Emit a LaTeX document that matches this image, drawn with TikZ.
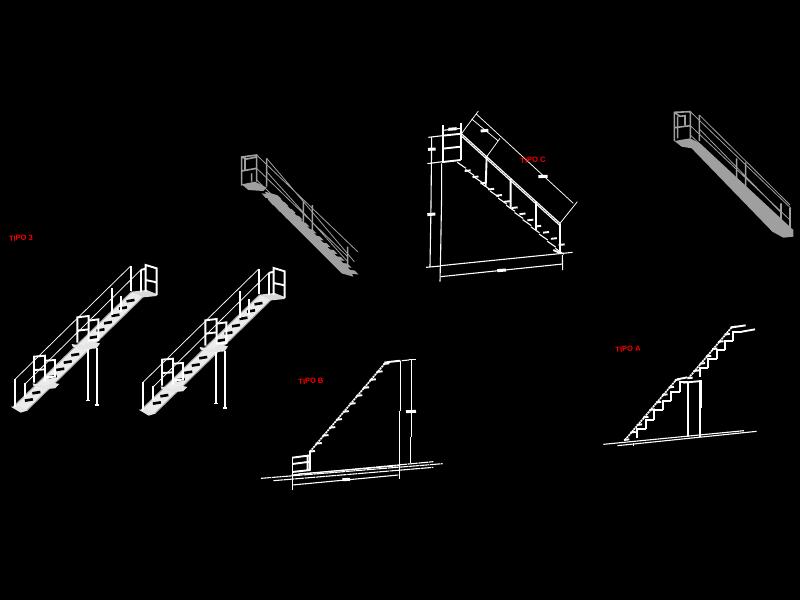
\documentclass[tikz,border=0pt]{standalone}
\usepackage{fontspec}
\setmainfont{Liberation Sans}
\tikzset{
 zoomed/.style={x=0.33333pt,y=-0.33333pt},
 lbl/.style={text=red,font=\bfseries\fontsize{7.5}{8}\selectfont,inner sep=0pt,rotate=4},
 thin line/.style={draw=white,line width=0.75pt},
 mid line/.style={draw=white,line width=1.1pt},
 heavy line/.style={draw=white,line width=1.9pt},
 blob/.style={draw=white,line width=3pt},
 greyline/.style={draw=gray!75,line width=0.8pt},
 greyheavy/.style={draw=gray!75,line width=1.6pt},
}
\newcommand{\typethree}{%
 % continuous band of treads, edges in grey
 \fill[white!92!black] (40,560) -- (395,215) -- (432,228) -- (80,572) -- cycle;
 \draw[gray!70,line width=1pt] (40,560) -- (395,215) (80,572) -- (432,228);
 % landings
 \fill[white!90!black] (98,490) -- (135,498) -- (160,488) -- (178,492) -- (165,505) -- (135,507) -- (100,497) -- cycle;
 \fill[white!90!black] (215,372) -- (252,378) -- (272,365) -- (300,370) -- (290,385) -- (255,388) -- (218,380) -- cycle;
 \fill[white!85!black] (395,215) -- (440,210) -- (470,222) -- (470,228) -- (430,232) -- cycle;
 \fill[white!90!black] (32,560) -- (60,558) -- (82,572) -- (62,578) -- cycle;
 % step gaps
 \foreach \y in {540,518,470,448,426,404,352,330,308,286,264,242}
   {\draw[black,line width=2.6pt] ({60+(566-\y)*1.023-12},\y+2) -- ++(24,-4);}
 % columns
 \draw[heavy line] (264,388) -- (264,540) (292,385) -- (292,553);
 \draw[mid line] (258,542) -- (270,542) (286,555) -- (298,555);
 % rails
 \draw[thin line] (45,478) -- (392,138) (75,492) -- (422,150);
 \draw[heavy line] (45,478) -- (45,560) (75,490) -- (75,530)
   (392,138) -- (392,212) (335,205) -- (335,285) (362,228) -- (362,275) (422,150) -- (422,215);
 % frames
 \draw[heavy line] (102,488) -- (102,410) -- (135,407) -- (135,485)
   (135,422) -- (165,420) -- (165,470) -- (135,472) (102,450) -- (135,448);
 \draw[heavy line] (232,368) -- (232,292) -- (266,288) -- (266,365)
   (266,302) -- (295,298) -- (295,360) -- (266,362) (232,332) -- (266,328);
 \draw[heavy line] (437,215) -- (437,135) -- (470,145) -- (470,225)
   (437,180) -- (470,187) (422,150) -- (437,146);
}
% a diagonal of dense dots carrying short heavy treads
\newcommand{\treadrun}[6]{% x0,y0,x1,y1,n,tread length
 \draw[white,line width=1.7pt,dash pattern=on 2pt off 0.7pt] (#1,#2) -- (#3,#4);
 \foreach \i in {0,...,#5}{
  \draw[heavy line] ({#1+\i*(#3-#1)/#5-3},{#2+\i*(#4-#2)/#5}) -- ++(#6,-2);
 }
}
\newcommand{\stepped}[6]{% x0,y0,dx,dy,n,style
 \foreach \i in {1,...,#5}{
  \draw[#6] ({#1+(\i-1)*#3},{#2+(\i-1)*#4}) -- ++(0,#4) -- ++(#3,0);
 }
}
\begin{document}
\begin{tikzpicture}[x=1pt,y=-1pt]
\useasboundingbox (0,0) rectangle (800,600);
\fill[black] (0,0) rectangle (800,600);

% TIPO 3, twice
\begin{scope}[shift={(0,220)},zoomed]\typethree\end{scope}
\begin{scope}[shift={(128,223)},zoomed]\typethree\end{scope}

% grey stair, upper middle
\begin{scope}[shift={(235,145)},zoomed]
 \fill[gray!75] (20,118) -- (60,110) -- (95,128) -- (85,138) -- (40,135) -- cycle;
 \fill[gray!75] (90,140) -- (125,150) -- (345,375) -- (355,395) -- (320,385) -- (100,165) -- cycle;
 \foreach \i in {0,...,11}{
  \fill[gray!75] ({80+\i*21},{145+\i*20.5}) -- ++(48,6) -- ++(12,12) -- ++(-48,-4) -- cycle;
 }
 \draw[greyheavy] (20,122) -- (20,36) -- (65,30) -- (65,110)
   (20,36) -- (35,42) -- (65,36) (20,78) -- (65,70) (30,42) -- (30,75)
   (50,85) -- (50,110) (95,40) -- (95,125)
   (205,170) -- (205,235) (232,180) -- (232,265) (338,305) -- (338,385);
 \draw[greyline] (65,30) -- (368,320) (95,40) -- (358,350)
   (65,70) -- (338,335) (95,80) -- (338,350) (65,105) -- (338,370);
\end{scope}

% grey stair, upper right
\begin{scope}[shift={(665,105)},zoomed]
 \fill[gray!75] (28,108) -- (75,100) -- (105,115) -- (385,375) -- (385,395) -- (355,398) -- (322,380) -- (80,130) -- (50,125) -- cycle;
 \draw[greyheavy] (28,108) -- (28,22) -- (76,20) -- (76,100)
   (28,22) -- (45,34) -- (60,32) -- (60,60) (28,68) -- (76,62) (38,34) -- (38,100)
   (103,30) -- (103,108) (215,160) -- (215,225) (242,172) -- (242,250)
   (348,295) -- (348,375) (375,308) -- (375,385);
 \draw[greyline] (76,20) -- (378,310) (103,30) -- (375,300)
   (76,62) -- (375,345) (103,72) -- (350,325) (76,90) -- (350,352);
\end{scope}

% TIPO C
\begin{scope}[shift={(420,105)},zoomed]
 \draw[heavy line] (70,60) -- (70,175) (123,55) -- (123,165);
 \draw[heavy line] (68,92) -- (125,86) (68,131) -- (122,125) (68,171) -- (122,165);
 \draw[mid line] (68,76) -- (125,70) (25,97) -- (68,92) (22,176) -- (68,170)
   (35,97) -- (33,300) -- (30,485) (18,487) -- (62,483)
   (65,175) -- (65,265) -- (62,440) -- (60,530);
 \draw[blob] (85,73) -- (110,71) (24,133) -- (47,132) (22,329) -- (46,327);
 \draw[mid line] (62,482) -- (458,442) (62,515) -- (428,477) (427,450) -- (428,495);
 \draw[blob] (232,497) -- (258,495);
 % rail and posts
 \draw[mid line] (123,85) -- (420,355) (123,92) -- (420,362);
 \draw[heavy line] (200,155) -- (197,245) (272,220) -- (272,310) (348,290) -- (348,375) (420,355) -- (420,445);
 % dimension lines
 \draw[thin line] (170,28) -- (460,295) (125,85) -- (175,18) (420,355) -- (472,290)
   (155,42) -- (235,108) (200,155) -- (240,100);
 \draw[blob] (182,78) -- (205,76) (355,215) -- (383,214);
 % stringers and tread ticks
 \foreach \i in {0,...,12}{
  \draw[mid line] ({112+\i*24.5},{172+\i*21.5}) -- ++(26,18);
  \draw[heavy line] ({134+\i*23.5},{198+\i*18.5}) -- ++(18,-2);
 }
 \draw[heavy line] (400,435) -- (422,445);
\end{scope}

% TIPO B
\begin{scope}[shift={(255,350)},zoomed]
 \draw[mid line,dash pattern=on 10pt off 0.6pt] (18,385) -- (563,341);
 \draw[mid line,dash pattern=on 10pt off 0.6pt] (55,392) -- (535,352);
 \draw[mid line,dash pattern=on 10pt off 0.6pt] (110,375) -- (535,335);
 \draw[mid line,dash pattern=on 10pt off 0.6pt] (130,372) -- (432,347);
 \draw[mid line] (112,405) -- (430,375);
 \draw[blob] (262,389) -- (285,388);
 \draw[mid line] (112,322) -- (112,420) (436,32) -- (436,182) (433,182) -- (433,388)
   (462,28) -- (483,28) (470,30) -- (470,260) (466,260) -- (466,340);
 \draw[blob] (453,185) -- (483,184);
 \draw[heavy line] (112,323) -- (165,316) (112,342) -- (165,335) (112,366) -- (165,360)
   (165,305) -- (165,362) (158,316) -- (158,360);
 \treadrun{165}{305}{388}{42}{11}{18}
 \draw[heavy line] (388,38) -- (400,36) -- (436,32);
 \draw[mid line] (440,32) -- (462,30);
\end{scope}

% TIPO A
\begin{scope}[shift={(600,320)},zoomed]
 \draw[mid line] (10,373) -- (432,332) (52,377) -- (470,334);
 \draw[mid line] (100,370) -- (100,377);
 \draw[heavy line] (264,185) -- (264,350) (300,180) -- (300,350);
 \draw[mid line] (304,180) -- (304,265);
 \treadrun{75}{360}{228}{180}{8}{16}
 \treadrun{265}{175}{395}{22}{7}{16}
 \stepped{112}{355}{25.4}{-28}{6}{heavy line}
 \stepped{300}{170}{25}{-27}{5}{heavy line}
 \draw[heavy line] (231,178) -- (262,172) (250,188) -- (305,183)
   (395,22) -- (437,16) (425,35) -- (465,28);
\end{scope}

% labels
\node[lbl] (t3) at (21,238) {TIPO 3};
\node[lbl] (tc) at (533,160) {TIPO C};
\node[lbl] (tb) at (311,381) {TIPO B};
\node[lbl] (ta) at (628,349) {TIPO A};
\end{tikzpicture}
\end{document}
